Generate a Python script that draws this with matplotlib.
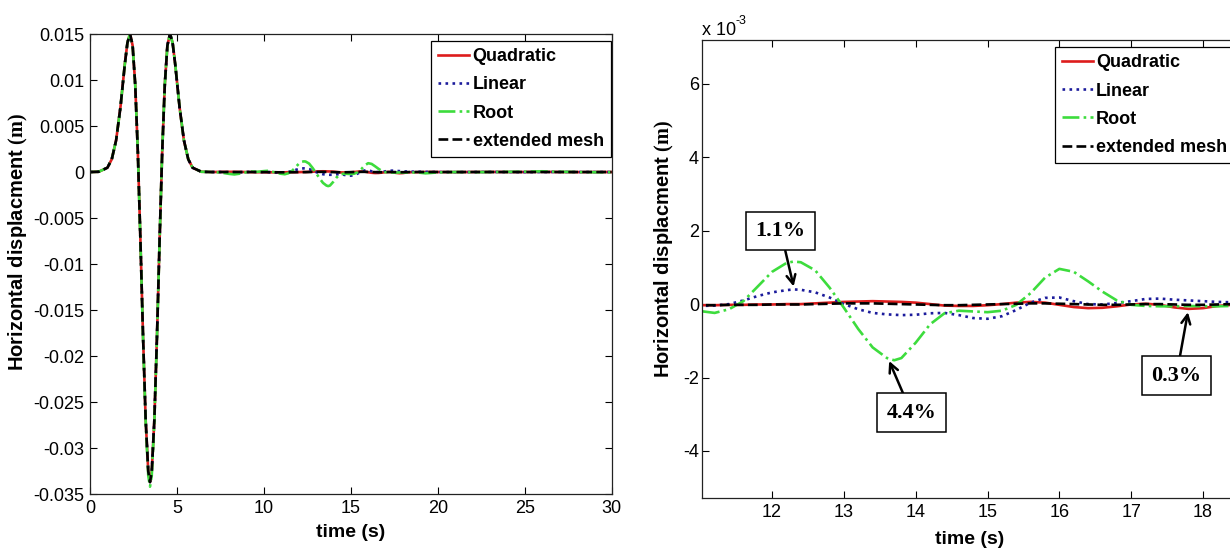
import numpy as np
import matplotlib.pyplot as plt
from matplotlib.ticker import FuncFormatter

plt.rcParams['font.family'] = ['Liberation Sans', 'DejaVu Sans']
plt.rcParams['axes.unicode_minus'] = False
plt.rcParams['mathtext.fontset'] = 'custom'
plt.rcParams['mathtext.bf'] = 'Liberation Serif:bold'
plt.rcParams['mathtext.rm'] = 'Liberation Serif'

# --- datos (desplazamientos en mm, es decir x1e-3 m) ---
# pulso principal, igual para todos los modelos
t_pulse = [0.0, 0.5, 1.0, 1.25, 1.5, 1.75, 2.0, 2.15, 2.3, 2.45, 2.6, 2.75, 2.9,
           3.05, 3.2, 3.35, 3.45, 3.55, 3.7, 3.85, 4.0, 4.15, 4.3, 4.45, 4.6,
           4.75, 4.9, 5.15, 5.4, 5.65, 5.9]
pulse_mm = [0.0, 0.03, 0.47, 1.39, 3.45, 7.05, 11.71, 14.04, 15.04, 13.75, 9.48, 2.15, -7.51,
            -17.9, -26.94, -32.56, -33.7, -32.56, -26.94, -17.9, -7.51, 2.15, 9.48, 13.75, 15.04,
            14.04, 11.71, 7.05, 3.45, 1.39, 0.47]
root_pulse_mm = [0.0, 0.03, 0.47, 1.39, 3.45, 7.05, 11.71, 14.04, 15.04, 13.75, 9.48, 2.15, -7.6,
                 -18.1, -27.2, -33.0, -34.2, -33.0, -27.2, -18.1, -7.6, 2.15, 9.48, 13.75, 15.04,
                 14.04, 11.71, 7.05, 3.45, 1.39, 0.47]

# cola (reflexiones en el borde)
t_tail = [6.4, 7.0, 7.5, 8.0, 8.3, 8.6, 9.0, 9.3, 9.6, 10.0, 10.2, 10.4, 10.6, 10.8,
          11.0, 11.2, 11.4, 11.6, 11.8, 12.0, 12.2, 12.3, 12.4, 12.6, 12.8, 13.0, 13.2, 13.4,
          13.6, 13.7, 13.8, 14.0, 14.2, 14.4, 14.6, 14.8, 15.0, 15.2, 15.4, 15.6, 15.8, 16.0,
          16.2, 16.4, 16.6, 16.8, 17.0, 17.2, 17.4, 17.6, 17.8, 18.0, 18.2, 18.4, 18.6,
          19.0, 19.3, 19.6, 20, 21, 22, 23, 24, 25, 26, 27, 28, 29, 30]
quad_tail_mm = [0.03, 0.0, 0.01, 0.02, 0.02, 0.01, 0.0, -0.01, -0.02, -0.02, -0.03, -0.03, -0.03, -0.03,
                -0.03, -0.03, -0.02, -0.02, -0.01, -0.01, 0.0, 0.0, 0.0, 0.02, 0.04, 0.06, 0.07, 0.08,
                0.07, 0.065, 0.06, 0.04, 0.0, -0.04, -0.05, -0.05, -0.03, 0.0, 0.04, 0.06, 0.04, -0.02,
                -0.08, -0.11, -0.10, -0.06, -0.01, 0.01, -0.02, -0.09, -0.13, -0.11, -0.05, -0.02, -0.02,
                -0.01, 0.0, 0.01, 0.0, -0.01, 0.0, 0.01, 0.0, 0.0, 0.02, 0.0, -0.01, 0.0, 0.0]
lin_tail_mm = [0.03, 0.0, 0.0, -0.02, -0.03, -0.02, 0.0, 0.02, 0.02, 0.01, 0.0, -0.02, -0.04, -0.05,
               -0.05, -0.04, 0.0, 0.10, 0.22, 0.32, 0.38, 0.40, 0.39, 0.32, 0.18, 0.0, -0.14, -0.24,
               -0.28, -0.29, -0.30, -0.29, -0.25, -0.24, -0.30, -0.38, -0.40, -0.33, -0.16, 0.04, 0.17, 0.18,
               0.08, 0.0, -0.01, 0.03, 0.08, 0.14, 0.15, 0.12, 0.10, 0.08, 0.06, 0.05, 0.04,
               0.03, 0.02, 0.01, 0.0, -0.01, 0.0, 0.01, 0.0, -0.01, 0.0, 0.01, 0.0, 0.0, 0.0]
root_tail_mm = [0.03, 0.0, -0.05, -0.2, -0.26, -0.18, -0.02, 0.06, 0.02, 0.1, 0.13, 0.08, -0.02, -0.12,
                -0.19, -0.24, -0.14, 0.08, 0.48, 0.88, 1.12, 1.16, 1.14, 0.92, 0.45, -0.10, -0.68, -1.18,
                -1.47, -1.53, -1.47, -1.05, -0.55, -0.25, -0.18, -0.20, -0.22, -0.18, -0.02, 0.30, 0.72, 0.96,
                0.88, 0.62, 0.34, 0.10, -0.02, -0.05, -0.06, -0.06, -0.05, -0.06, -0.06, -0.05, -0.05,
                -0.08, -0.14, -0.10, -0.04, 0.0, -0.02, 0.0, 0.02, 0.04, 0.08, 0.03, 0.0, -0.02, -0.02]
ext_tail_mm = [0.03, 0.0, 0.0, 0.0, 0.0, 0.0, 0.0, 0.0, -0.01, -0.01, -0.01, -0.02, -0.02, -0.03,
               -0.03, -0.03, -0.02, -0.02, -0.02, -0.01, -0.01, -0.01, -0.01, 0.0, 0.01, 0.02, 0.02, 0.02,
               0.01, 0.005, 0.0, -0.01, -0.02, -0.03, -0.03, -0.02, -0.01, 0.0, 0.01, 0.02, 0.02, 0.01,
               0.0, -0.01, -0.02, -0.02, -0.01, 0.0, 0.0, -0.01, -0.02, -0.02, -0.01, 0.0, 0.0,
               0.0, 0.0, 0.0, 0.0, 0.0, 0.0, 0.0, 0.0, 0.0, 0.0, 0.0, 0.0, 0.0, 0.0]

time = np.array(t_pulse + t_tail)
series = [
    ('Quadratic', np.array(pulse_mm + quad_tail_mm) * 1e-3, '#dd1c1c', '-'),
    ('Linear', np.array(pulse_mm + lin_tail_mm) * 1e-3, '#1c1c9c', ':'),
    ('Root', np.array(root_pulse_mm + root_tail_mm) * 1e-3, '#3ddc3d', '-.'),
    ('extended mesh', np.array(pulse_mm + ext_tail_mm) * 1e-3, 'black', '--'),
]

# anotaciones del panel derecho: texto, punta (t, u), caja (t, u)
notes = [('1.1%', (12.30, 0.48e-3), (12.12, 1.99e-3)),
         ('4.4%', (13.63, -1.55e-3), (13.94, -2.96e-3)),
         ('0.3%', (17.79, -0.22e-3), (17.63, -1.95e-3))]

fig = plt.figure(figsize=(12.3, 5.48), dpi=100)
ax1 = fig.add_axes([0.0732, 0.0985, 0.424, 0.8394])
ax2 = fig.add_axes([0.5705, 0.0907, 0.435, 0.836])

for ax in (ax1, ax2):
    for nombre, u, color, ls in series:
        ax.plot(time, u, color=color, linestyle=ls, lw=1.9, label=nombre)
    ax.tick_params(direction='in', top=True, right=True, length=5, width=0.8,
                   labelsize=13, pad=4)
    for s in ax.spines.values():
        s.set_linewidth(0.9)
        s.set_color('#222222')

ylab = r'Horizontal displacment $\mathbf{(m)}$'
leg_kw = dict(loc='upper left', bbox_transform=fig.transFigure,
              prop={'weight': 'bold', 'size': 13}, frameon=True, fancybox=False,
              edgecolor='black', framealpha=1, handlelength=1.7, handletextpad=0.2,
              labelspacing=0.62, borderpad=0.4, borderaxespad=0)

# panel izquierdo
ax1.set_xlim(0, 30)
ax1.set_ylim(-0.035, 0.015)
ax1.set_xticks([0, 5, 10, 15, 20, 25, 30])
ax1.set_yticks([-0.035, -0.03, -0.025, -0.02, -0.015, -0.01, -0.005, 0, 0.005, 0.01, 0.015])
ax1.yaxis.set_major_formatter(FuncFormatter(lambda v, p: f'{v:g}'))
ax1.set_xlabel('time (s)', fontsize=14, fontweight='bold')
ax1.xaxis.set_label_coords(0.5, -0.066)
ax1.set_ylabel(ylab, fontsize=14.5, fontweight='bold')
ax1.yaxis.set_label_coords(-0.115, 0.548)
ax1.legend(bbox_to_anchor=(431 / 1230, 1 - 41 / 548), **leg_kw).get_frame().set_linewidth(0.9)

# panel derecho (zoom)
ax2.set_xlim(11.02, 18.47)
ax2.set_ylim(-5.29e-3, 7.19e-3)
ax2.set_xticks([12, 13, 14, 15, 16, 17, 18])
ax2.set_yticks([-4e-3, -2e-3, 0, 2e-3, 4e-3, 6e-3])
ax2.yaxis.set_major_formatter(FuncFormatter(lambda v, p: f'{v * 1e3:g}'))
ax2.tick_params(axis='y', pad=2)
ax2.set_xlabel('time (s)', fontsize=14, fontweight='bold')
ax2.xaxis.set_label_coords(0.5, -0.071)
ax2.set_ylabel(ylab, fontsize=14.5, fontweight='bold')
ax2.yaxis.set_label_coords(-0.048, 0.544)
ax2.legend(bbox_to_anchor=(1054.6 / 1230, 1 - 47.2 / 548), **leg_kw).get_frame().set_linewidth(0.9)

fig.text(0.5705, 1 - 35 / 548, 'x 10', fontsize=13, va='baseline')
fig.text(0.5705 + 34 / 1230, 1 - 24 / 548, '-3', fontsize=9, va='baseline')

for txt, punta, caja in notes:
    ax2.annotate(txt, xy=punta, xytext=caja, ha='center', va='center',
                 fontfamily='Liberation Serif', fontweight='bold', fontsize=16,
                 bbox=dict(boxstyle='square,pad=0.42', fc='white', ec='black', lw=1.1),
                 arrowprops=dict(arrowstyle='->', color='black', lw=1.8,
                                 mutation_scale=16, shrinkA=0, shrinkB=0))

fig.savefig('out.png', dpi=100)
